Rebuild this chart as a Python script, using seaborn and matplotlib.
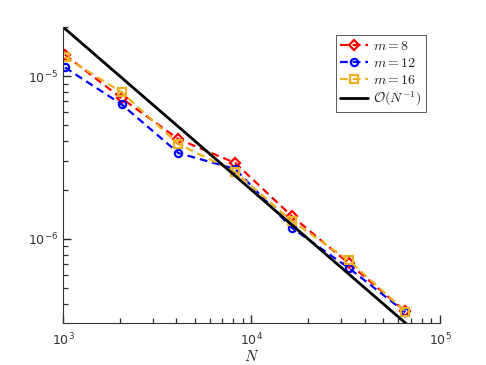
import matplotlib
matplotlib.use('Agg')
import matplotlib.pyplot as plt
import matplotlib.ticker as mticker
from matplotlib.font_manager import FontProperties
import seaborn as sns
import numpy as np

# data
N = [1024, 2048, 4096, 8192, 16384, 32768, 65536]
err_m8 = [1.35e-5, 7.3e-6, 4.1e-6, 2.93e-6, 1.38e-6, 7.1e-7, 3.6e-7]
err_m12 = [1.13e-5, 6.7e-6, 3.37e-6, 2.69e-6, 1.17e-6, 6.65e-7, 3.55e-7]
err_m16 = [1.31e-5, 7.95e-6, 3.83e-6, 2.58e-6, 1.29e-6, 7.4e-7, 3.58e-7]
ref_N = [1e3, 1e5]
ref_const = 0.02  # O(N^-1) reference: 0.02 / N

sns.set_style("ticks", {"xtick.direction": "in", "ytick.direction": "in"})
plt.rcParams['mathtext.fontset'] = 'dejavusans'
plt.rcParams['font.family'] = ['DejaVu Sans']

fig = plt.figure(figsize=(4.86, 3.65), dpi=100)
ax = fig.add_axes([0.1296, 0.115, 0.7757, 0.811])

dash = (0, (3.5, 2.2))
series = [
    (err_m8, '#ff0000', 'D', r'$m=8$'),
    (err_m12, '#0000ff', 'o', r'$m=12$'),
    (err_m16, '#edb120', 's', r'$m=16$'),
]
for vals, col, mk, lab in series:
    sns.lineplot(x=N, y=vals, ax=ax, color=col, marker=mk, linestyle=dash,
                 linewidth=1.6, markersize=5.2 if mk != 'D' else 4.6,
                 markerfacecolor='none', markeredgecolor=col,
                 markeredgewidth=1.6, label=lab)

ref_x = np.array(ref_N)
sns.lineplot(x=ref_x, y=ref_const / ref_x, ax=ax, color='black',
             linewidth=2.0, label=r'$\mathcal{O}(N^{-1})$')

ax.set_xscale('log')
ax.set_yscale('log')
ax.set_xlim(1e3, 1e5)
ax.set_ylim(3.05e-7, 2e-5)

def sci(v, pos):
    e = int(round(np.log10(v)))
    return r'$10^{%d}$' % e

ax.xaxis.set_major_formatter(mticker.FuncFormatter(sci))
ax.yaxis.set_major_formatter(mticker.FuncFormatter(sci))

# inward ticks, MATLAB-like
ax.tick_params(which='both', direction='in', color='#2a2a2a',
               labelcolor='#333333', labelsize=9,
               bottom=True, left=True, top=False, right=False)
ax.tick_params(which='major', length=6, width=1.0)
ax.tick_params(which='minor', length=3.5, width=0.9)
ax.tick_params(axis='x', which='major', pad=6)

for side in ['top', 'right']:
    ax.spines[side].set_visible(False)
for side in ['left', 'bottom']:
    ax.spines[side].set_color('#333333')
    ax.spines[side].set_linewidth(0.8)

ax.set_xlabel(r'$N$', fontsize=11, labelpad=1, math_fontfamily='cm')

leg_font = FontProperties(size=10, math_fontfamily='cm')
leg = ax.legend(loc='upper right', bbox_to_anchor=(0.963, 0.973),
                borderaxespad=0, prop=leg_font, handlelength=2.0,
                handletextpad=0.4, labelspacing=0.2, borderpad=0.3,
                fancybox=False, framealpha=1, edgecolor='#404040')
leg.get_frame().set_linewidth(0.6)

plt.savefig('out.png', dpi=100)
plt.close()
